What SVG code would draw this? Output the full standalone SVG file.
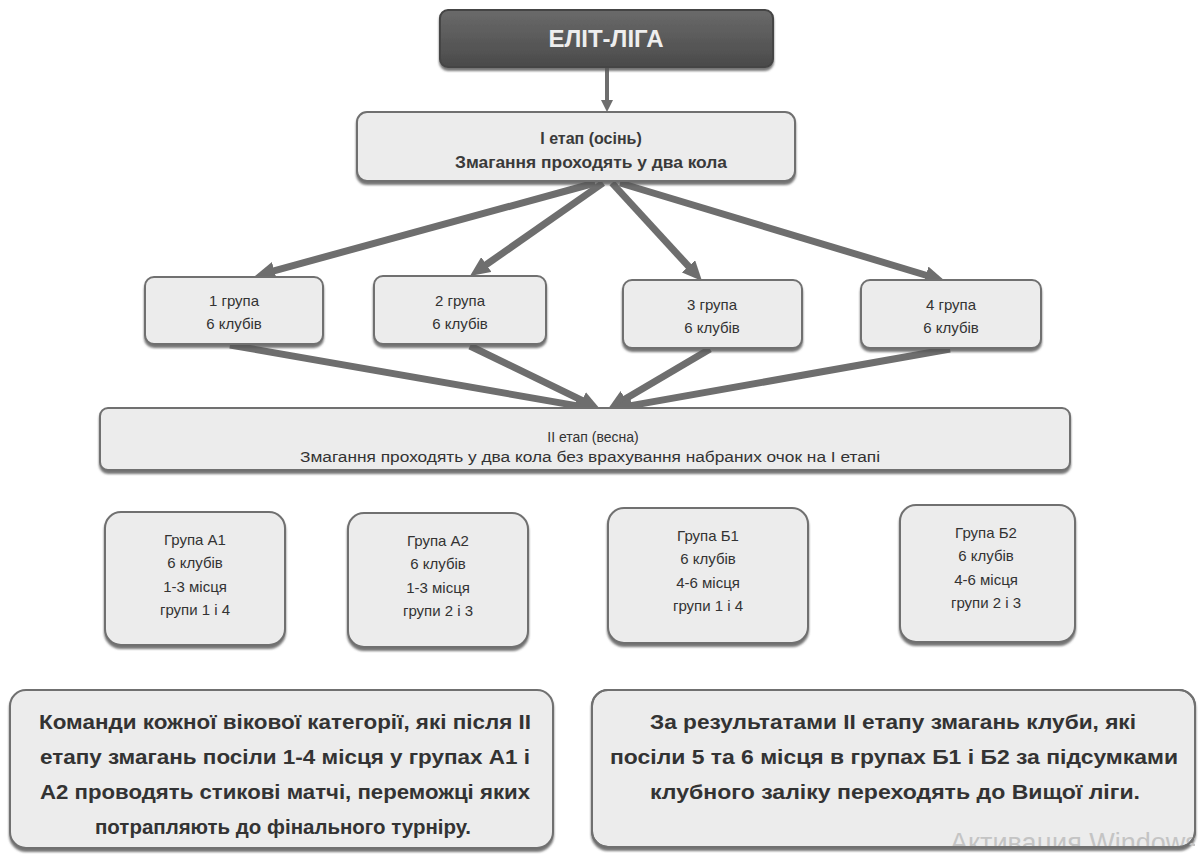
<svg xmlns="http://www.w3.org/2000/svg" width="1198" height="856" viewBox="0 0 1198 856">
<style>
.box{fill:#ececec;stroke:#707070;stroke-width:2;filter:url(#sh)}
.t{font-family:"Liberation Sans",Arial,sans-serif;fill:#333;text-anchor:middle}
.s{font-size:15px}
.m{font-size:16px;font-weight:bold;fill:#3a3a3a}
.b{font-size:20px;font-weight:bold;fill:#333}
.arr{stroke:#6e6e6e;stroke-width:7;fill:none;marker-end:url(#ah)}
</style>
<defs>
<filter id="sh" x="-5%" y="-10%" width="110%" height="130%">
<feDropShadow dx="0" dy="3" stdDeviation="1" flood-color="#555" flood-opacity="0.8"/>
</filter>
<marker id="ah" markerUnits="userSpaceOnUse" viewBox="0 0 20 18" markerWidth="20" markerHeight="18" refX="8" refY="9" orient="auto">
<path d="M0,0 L20,9 L0,18 z" fill="#6e6e6e"/>
</marker>
<marker id="ahs" markerUnits="userSpaceOnUse" viewBox="0 0 12 12" markerWidth="12" markerHeight="12" refX="4" refY="6" orient="auto">
<path d="M0,0 L12,6 L0,12 z" fill="#6e6e6e"/>
</marker>
<linearGradient id="dg" x1="0" y1="0" x2="0" y2="1">
<stop offset="0" stop-color="#6a6a6a"/>
<stop offset="1" stop-color="#4a4a4a"/>
</linearGradient>
<clipPath id="wm"><rect x="592" y="690" width="603" height="156"/></clipPath>
</defs>

<g id="connectors">
<line x1="607" y1="68" x2="607" y2="104" stroke="#6e6e6e" stroke-width="4" marker-end="url(#ahs)"/>
<line class="arr" x1="595" y1="183" x2="266.6" y2="272.8"/>
<line class="arr" x1="603" y1="183" x2="479.8" y2="269.1"/>
<line class="arr" x1="612" y1="183" x2="693.9" y2="272.2"/>
<line class="arr" x1="620" y1="183" x2="933.5" y2="277.5"/>
<line class="arr" x1="230" y1="345" x2="583.2" y2="406.9"/>
<line class="arr" x1="470" y1="346" x2="589.2" y2="403.8"/>
<line class="arr" x1="710" y1="349" x2="618.3" y2="402.9"/>
<line class="arr" x1="950" y1="349" x2="623.8" y2="406.9"/>
</g>

<g id="elite">
<rect x="440" y="10" width="333" height="57" rx="8" fill="url(#dg)" stroke="#444" stroke-width="2" filter="url(#sh)"/>
<text class="t" x="606" y="47" font-size="24" font-weight="bold" style="fill:#eee">ЕЛІТ-ЛІГА</text>
</g>

<g id="stage1">
<rect class="box" x="357" y="112" width="438" height="69" rx="10"/>
<text class="t m" x="591" y="144">І етап (осінь)</text>
<text class="t m" x="591" y="168" textLength="272" lengthAdjust="spacingAndGlyphs">Змагання проходять у два кола</text>
</g>

<g id="g1">
<rect class="box" x="145" y="277" width="178" height="67" rx="9"/>
<text class="t s" x="234" y="306">1 група</text>
<text class="t s" x="234" y="329">6 клубів</text>
</g>
<g id="g2">
<rect class="box" x="374" y="276" width="172" height="68" rx="9"/>
<text class="t s" x="460" y="306">2 група</text>
<text class="t s" x="460" y="329">6 клубів</text>
</g>
<g id="g3">
<rect class="box" x="623" y="280" width="179" height="68" rx="9"/>
<text class="t s" x="712" y="310">3 група</text>
<text class="t s" x="712" y="333">6 клубів</text>
</g>
<g id="g4">
<rect class="box" x="861" y="280" width="180" height="68" rx="9"/>
<text class="t s" x="951" y="310">4 група</text>
<text class="t s" x="951" y="333">6 клубів</text>
</g>

<g id="stage2">
<rect class="box" x="100" y="408" width="970" height="62" rx="8"/>
<text class="t" x="593" y="442" font-size="14">ІІ етап (весна)</text>
<text class="t" x="590" y="462" font-size="14" textLength="580" lengthAdjust="spacingAndGlyphs">Змагання проходять у два кола без врахування набраних очок на І етапі</text>
</g>

<g id="a1">
<rect class="box" x="105" y="512" width="180" height="133" rx="16"/>
<text class="t s" x="195" y="545">Група А1</text>
<text class="t s" x="195" y="568">6 клубів</text>
<text class="t s" x="195" y="592">1-3 місця</text>
<text class="t s" x="195" y="615">групи 1 і 4</text>
</g>
<g id="a2">
<rect class="box" x="348" y="513" width="180" height="134" rx="16"/>
<text class="t s" x="438" y="546">Група А2</text>
<text class="t s" x="438" y="569">6 клубів</text>
<text class="t s" x="438" y="593">1-3 місця</text>
<text class="t s" x="438" y="616">групи 2 і 3</text>
</g>
<g id="b1">
<rect class="box" x="608" y="508" width="200" height="135" rx="16"/>
<text class="t s" x="708" y="541">Група Б1</text>
<text class="t s" x="708" y="564">6 клубів</text>
<text class="t s" x="708" y="588">4-6 місця</text>
<text class="t s" x="708" y="611">групи 1 і 4</text>
</g>
<g id="b2">
<rect class="box" x="900" y="505" width="175" height="137" rx="16"/>
<text class="t s" x="986" y="538">Група Б2</text>
<text class="t s" x="986" y="561">6 клубів</text>
<text class="t s" x="986" y="585">4-6 місця</text>
<text class="t s" x="986" y="608">групи 2 і 3</text>
</g>

<g id="note1">
<rect class="box" x="10" y="690" width="543" height="158" rx="16"/>
<text class="t b" x="285" y="729" textLength="492" lengthAdjust="spacingAndGlyphs">Команди кожної вікової категорії, які після ІІ</text>
<text class="t b" x="285" y="764" textLength="490" lengthAdjust="spacingAndGlyphs">етапу змагань посіли 1-4 місця у групах А1 і</text>
<text class="t b" x="285" y="799" textLength="490" lengthAdjust="spacingAndGlyphs">А2 проводять стикові матчі, переможці яких</text>
<text class="t b" x="283" y="834" textLength="376" lengthAdjust="spacingAndGlyphs">потрапляють до фінального турніру.</text>
</g>

<g id="note2">
<rect class="box" x="592" y="690" width="603" height="157" rx="16"/>
<text class="t b" x="893" y="729" textLength="486" lengthAdjust="spacingAndGlyphs">За результатами ІІ етапу змагань клуби, які</text>
<text class="t b" x="894" y="764" textLength="568" lengthAdjust="spacingAndGlyphs">посіли 5 та 6 місця в групах Б1 і Б2 за підсумками</text>
<text class="t b" x="895" y="799" textLength="490" lengthAdjust="spacingAndGlyphs">клубного заліку переходять до Вищої ліги.</text>
<text x="950" y="852" clip-path="url(#wm)" font-family="'Liberation Sans',Arial,sans-serif" font-size="27" fill="#c4c4c4">Активация Windows</text>
<rect x="592" y="690" width="603" height="157" rx="16" fill="none" stroke="#707070" stroke-width="2"/>
</g>
</svg>
